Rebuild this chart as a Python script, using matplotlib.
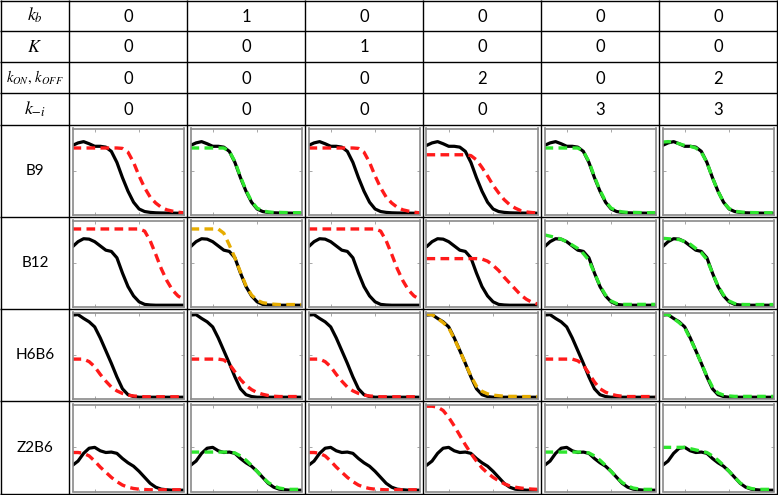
import numpy as np
import matplotlib
matplotlib.use("Agg")
import matplotlib.pyplot as plt

plt.rcParams['mathtext.fontset'] = 'stix'

# header table
param_labels = [r'$k_b$', r'$K$', r'$k_{ON},\,k_{OFF}$', r'$k_{-i}$']
label_sizes = [13, 13, 10.5, 13]
param_values = [
    [0, 1, 0, 0, 0, 0],
    [0, 0, 1, 0, 0, 0],
    [0, 0, 0, 2, 0, 2],
    [0, 0, 0, 0, 3, 3],
]
row_names = ['B9', 'B12', 'H6B6', 'Z2B6']

# common abscissa of the small panels
x = np.linspace(0, 1, 21)

# measured (black) curves
b9_exp = [0.80, 0.83, 0.845, 0.82, 0.79, 0.79, 0.78, 0.73, 0.60, 0.42, 0.26,
          0.13, 0.05, 0.02, 0.01, 0.005, 0.003, 0.002, 0.001, 0.0, 0.0]
b12_exp = [0.69, 0.75, 0.785, 0.78, 0.75, 0.70, 0.65, 0.635, 0.56, 0.38, 0.22,
           0.11, 0.04, 0.01, 0.003, 0.0, 0.0, 0.0, 0.0, 0.0, 0.0]
h6b6_exp = [0.97, 0.975, 0.93, 0.89, 0.83, 0.70, 0.55, 0.40, 0.24, 0.10, 0.03,
            0.008, 0.0, 0.0, 0.0, 0.0, 0.0, 0.0, 0.0, 0.0, 0.0]
z2b6_exp = [0.29, 0.34, 0.43, 0.49, 0.50, 0.46, 0.44, 0.445, 0.43, 0.37, 0.32,
            0.28, 0.22, 0.15, 0.08, 0.035, 0.012, 0.005, 0.0, 0.0, 0.0]

# model (dashed) curves, one per column
b9_fit = [
    [0.77, 0.77, 0.77, 0.77, 0.77, 0.77, 0.77, 0.77, 0.77, 0.765, 0.72,
     0.60, 0.44, 0.30, 0.19, 0.12, 0.07, 0.04, 0.025, 0.012, 0.005],
    [0.77, 0.77, 0.77, 0.77, 0.77, 0.77, 0.77, 0.73, 0.61, 0.43, 0.27,
     0.14, 0.06, 0.03, 0.015, 0.01, 0.01, 0.008, 0.007, 0.006, 0.005],
    [0.77, 0.77, 0.77, 0.77, 0.77, 0.77, 0.77, 0.77, 0.77, 0.765, 0.72,
     0.60, 0.44, 0.30, 0.19, 0.12, 0.07, 0.04, 0.025, 0.012, 0.005],
    [0.69, 0.69, 0.69, 0.69, 0.69, 0.69, 0.69, 0.69, 0.68, 0.63, 0.54,
     0.44, 0.33, 0.24, 0.16, 0.10, 0.06, 0.03, 0.015, 0.008, 0.004],
    [0.77, 0.77, 0.77, 0.77, 0.77, 0.77, 0.77, 0.73, 0.61, 0.43, 0.27,
     0.14, 0.06, 0.03, 0.015, 0.01, 0.01, 0.008, 0.007, 0.006, 0.005],
    [0.84, 0.845, 0.84, 0.82, 0.80, 0.79, 0.77, 0.72, 0.60, 0.42, 0.26,
     0.13, 0.055, 0.025, 0.015, 0.01, 0.008, 0.007, 0.006, 0.005, 0.005],
]
b12_fit = [
    [0.90, 0.90, 0.90, 0.90, 0.90, 0.90, 0.90, 0.90, 0.90, 0.90, 0.90,
     0.90, 0.90, 0.875, 0.76, 0.60, 0.43, 0.29, 0.18, 0.11, 0.07],
    [0.90, 0.90, 0.90, 0.90, 0.90, 0.90, 0.85, 0.71, 0.56, 0.39, 0.23,
     0.12, 0.06, 0.03, 0.02, 0.012, 0.008, 0.008, 0.008, 0.008, 0.008],
    [0.90, 0.90, 0.90, 0.90, 0.90, 0.90, 0.90, 0.90, 0.90, 0.90, 0.90,
     0.90, 0.90, 0.875, 0.76, 0.60, 0.43, 0.29, 0.18, 0.11, 0.07],
    [0.55, 0.55, 0.55, 0.55, 0.55, 0.55, 0.55, 0.55, 0.55, 0.55, 0.545,
     0.52, 0.47, 0.41, 0.33, 0.26, 0.19, 0.12, 0.07, 0.035, 0.015],
    [0.83, 0.815, 0.80, 0.78, 0.75, 0.71, 0.67, 0.61, 0.53, 0.38, 0.23,
     0.12, 0.05, 0.02, 0.01, 0.01, 0.01, 0.01, 0.01, 0.01, 0.01],
    [0.79, 0.785, 0.78, 0.775, 0.75, 0.72, 0.67, 0.62, 0.54, 0.38, 0.23,
     0.12, 0.05, 0.02, 0.01, 0.008, 0.008, 0.008, 0.008, 0.008, 0.008],
]
h6b6_fit = [
    [0.45, 0.45, 0.45, 0.42, 0.36, 0.27, 0.19, 0.12, 0.075, 0.045, 0.025,
     0.015, 0.01, 0.005, 0.005, 0.005, 0.005, 0.005, 0.005, 0.005, 0.005],
    [0.45, 0.45, 0.45, 0.45, 0.45, 0.45, 0.44, 0.39, 0.30, 0.21, 0.14,
     0.09, 0.055, 0.035, 0.02, 0.012, 0.008, 0.008, 0.008, 0.008, 0.008],
    [0.45, 0.45, 0.45, 0.42, 0.36, 0.27, 0.19, 0.12, 0.075, 0.045, 0.025,
     0.015, 0.01, 0.005, 0.005, 0.005, 0.005, 0.005, 0.005, 0.005, 0.005],
    [0.98, 0.975, 0.93, 0.88, 0.82, 0.69, 0.55, 0.40, 0.25, 0.13, 0.07,
     0.04, 0.025, 0.018, 0.012, 0.01, 0.01, 0.008, 0.008, 0.008, 0.008],
    [0.45, 0.45, 0.45, 0.45, 0.45, 0.45, 0.43, 0.38, 0.28, 0.18, 0.10,
     0.06, 0.035, 0.02, 0.012, 0.008, 0.008, 0.008, 0.008, 0.008, 0.008],
    [0.98, 0.975, 0.93, 0.88, 0.82, 0.69, 0.55, 0.40, 0.25, 0.12, 0.05,
     0.025, 0.015, 0.01, 0.01, 0.01, 0.01, 0.01, 0.01, 0.01, 0.01],
]
z2b6_fit = [
    [0.44, 0.44, 0.43, 0.40, 0.34, 0.27, 0.21, 0.15, 0.10, 0.06, 0.035,
     0.02, 0.012, 0.008, 0.005, 0.005, 0.005, 0.005, 0.005, 0.005, 0.005],
    [0.445, 0.445, 0.445, 0.445, 0.445, 0.445, 0.445, 0.445, 0.435, 0.40, 0.35,
     0.29, 0.22, 0.15, 0.09, 0.05, 0.025, 0.015, 0.01, 0.01, 0.01],
    [0.44, 0.44, 0.43, 0.40, 0.34, 0.27, 0.21, 0.15, 0.10, 0.06, 0.035,
     0.02, 0.012, 0.008, 0.005, 0.005, 0.005, 0.005, 0.005, 0.005, 0.005],
    [0.98, 0.98, 0.97, 0.93, 0.85, 0.75, 0.64, 0.53, 0.43, 0.34, 0.26,
     0.20, 0.15, 0.11, 0.075, 0.05, 0.035, 0.025, 0.018, 0.013, 0.01],
    [0.445, 0.445, 0.445, 0.445, 0.445, 0.445, 0.445, 0.445, 0.435, 0.40, 0.35,
     0.29, 0.22, 0.15, 0.09, 0.05, 0.025, 0.015, 0.01, 0.01, 0.01],
    [0.50, 0.50, 0.50, 0.50, 0.50, 0.485, 0.47, 0.455, 0.44, 0.40, 0.35,
     0.29, 0.22, 0.15, 0.085, 0.04, 0.02, 0.01, 0.01, 0.01, 0.01],
]

RED = '#ff1a1a'
GRN = '#2ee62e'
ORA = '#e6ac00'
fit_colors = [
    [RED, GRN, RED, RED, GRN, GRN],
    [RED, ORA, RED, RED, GRN, GRN],
    [RED, RED, RED, ORA, RED, GRN],
    [RED, GRN, RED, RED, GRN, GRN],
]

exp_curves = [b9_exp, b12_exp, h6b6_exp, z2b6_exp]
fit_curves = [b9_fit, b12_fit, h6b6_fit, z2b6_fit]

W, H = 778, 495
fig = plt.figure(figsize=(W / 100, H / 100), dpi=100)

# background axes in pixel units for the table grid
bg = fig.add_axes([0, 0, 1, 1])
bg.set_xlim(0, W)
bg.set_ylim(H, 0)
bg.axis('off')

col_x = [0.5, 69, 187, 305, 423, 541, 659, 777]
row_y = [0.5, 31, 62, 93, 125, 217, 309, 401, 494]
bg.hlines(row_y, 0, W, color='black', lw=1.0)
bg.vlines(col_x, 0, row_y[-1], color='black', lw=1.0)

col_c = [(col_x[i] + col_x[i + 1]) / 2 for i in range(1, 7)]
for r in range(4):
    yc = (row_y[r] + row_y[r + 1]) / 2
    bg.text(35, yc, param_labels[r], ha='center', va='center',
            fontsize=label_sizes[r])
    for c in range(6):
        bg.text(col_c[c], yc + 1, str(param_values[r][c]), ha='center',
                va='center', fontsize=12, family='Lato')

for r in range(4):
    yc = (row_y[r + 4] + row_y[r + 5]) / 2
    bg.text(35, yc, row_names[r], ha='center', va='center', fontsize=11,
            family='Lato')

# small panels
for r in range(4):
    top = row_y[r + 4] + 3.5
    bot = row_y[r + 5] - 2.5
    for c in range(6):
        left = col_x[c + 1] + 3.5
        right = col_x[c + 2] - 3.5
        ax = fig.add_axes([left / W, 1 - bot / H, (right - left) / W, (bot - top) / H])
        ax.plot(x, exp_curves[r], color='black', lw=2.3, solid_capstyle='round')
        ax.plot(x, fit_curves[r][c], color=fit_colors[r][c], lw=2.4,
                dashes=(2.6, 1.6))
        ax.set_xlim(0, 1)
        ax.set_ylim(-0.015, 1.0)
        ax.set_xticks([0.2, 0.6])
        ax.set_yticks([0.5])
        ax.tick_params(direction='in', length=2, width=0.6, colors='#999999',
                       top=True, right=True, labelbottom=False, labelleft=False)
        for s in ax.spines.values():
            s.set_color('#8a8a8a')
            s.set_linewidth(1.2)

fig.savefig('out.png', dpi=100)
